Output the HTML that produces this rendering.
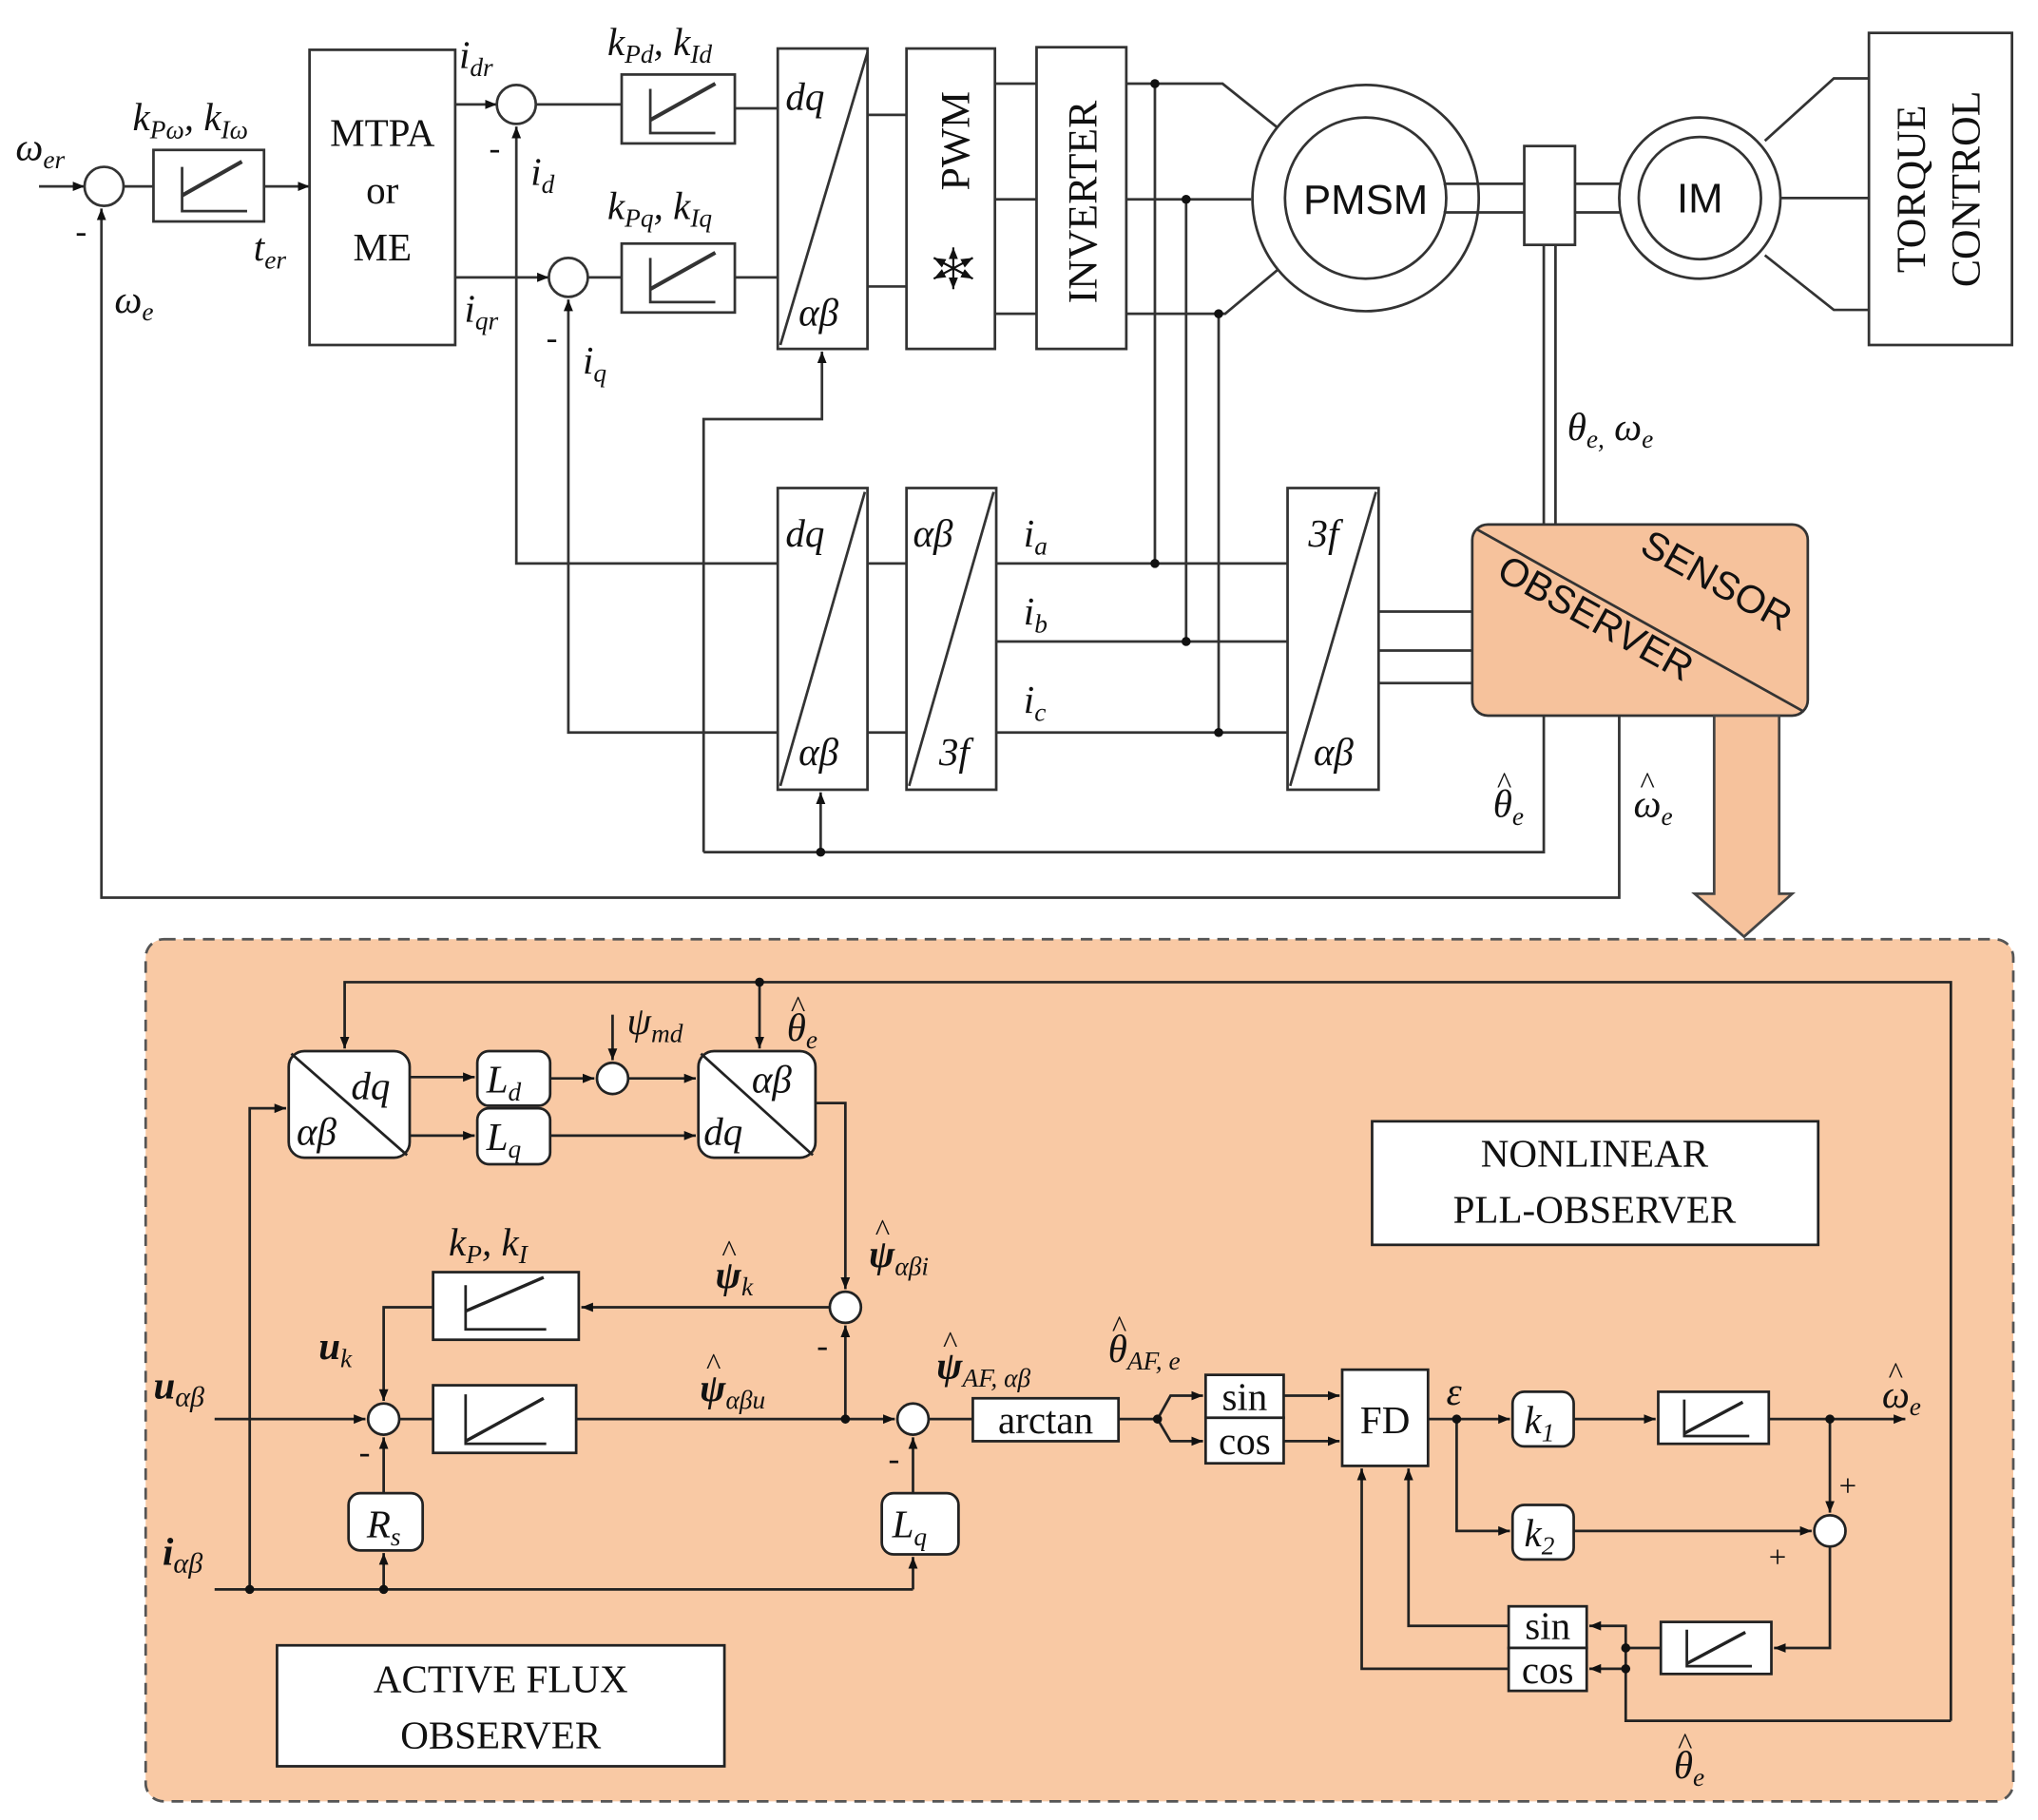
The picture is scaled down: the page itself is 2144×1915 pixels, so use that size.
<!DOCTYPE html>
<html><head><meta charset="utf-8"><style>html,body{margin:0;padding:0;background:#fff}svg{display:block}
text{font-family:"Liberation Serif",serif;fill:#111}
.i{font-style:italic}.s{font-family:"Liberation Sans",sans-serif}
</style></head><body>
<svg width="2144" height="1915" viewBox="0 0 1567 1399" xmlns="http://www.w3.org/2000/svg">
<defs><marker id="a" viewBox="0 0 10 10" refX="10" refY="5" markerWidth="9" markerHeight="9" markerUnits="userSpaceOnUse" orient="auto"><path d="M0,1 L10,5 L0,9 z" fill="#111"/></marker></defs>
<g stroke="#333" stroke-width="2" fill="none">
<line x1="30" y1="143" x2="65" y2="143" marker-end="url(#a)"/>
<circle cx="80" cy="143" r="15" fill="#fff"/>
<rect x="118" y="115" width="85" height="55" fill="#fff"/>
<polyline points="140,128 140,162 190,162"/><line x1="140" y1="150" x2="186" y2="124" stroke-width="3"/>
<line x1="95" y1="143" x2="118" y2="143"/>
<line x1="203" y1="143" x2="238" y2="143" marker-end="url(#a)"/>
<rect x="238" y="38" width="112" height="227" fill="#fff"/>
<line x1="350" y1="80" x2="382" y2="80" marker-end="url(#a)"/>
<circle cx="397" cy="80" r="15" fill="#fff"/>
<line x1="350" y1="213" x2="422" y2="213" marker-end="url(#a)"/>
<circle cx="437" cy="213" r="15" fill="#fff"/>
<line x1="412" y1="80" x2="478" y2="80"/>
<line x1="452" y1="213" x2="478" y2="213"/>
<rect x="478" y="57" width="87" height="53" fill="#fff"/>
<polyline points="500,68 500,102 550,102"/><line x1="500" y1="92" x2="550" y2="64" stroke-width="3"/>
<rect x="478" y="187" width="87" height="53" fill="#fff"/>
<polyline points="500,198 500,232 550,232"/><line x1="500" y1="222" x2="550" y2="194" stroke-width="3"/>
<line x1="565" y1="83" x2="598" y2="83"/><line x1="565" y1="213" x2="598" y2="213"/>
<rect x="598" y="37" width="69" height="231" fill="#fff"/><line x1="667" y1="40" x2="600" y2="265"/>
<line x1="667" y1="88" x2="697" y2="88"/><line x1="667" y1="220" x2="697" y2="220"/>
<rect x="697" y="37" width="68" height="231" fill="#fff"/>
<line x1="765" y1="64" x2="797" y2="64"/><line x1="765" y1="153" x2="797" y2="153"/><line x1="765" y1="241" x2="797" y2="241"/>
<rect x="797" y="36" width="69" height="232" fill="#fff"/>
<polyline points="866,64 940,64 985,100"/><line x1="866" y1="153" x2="962" y2="153"/><polyline points="866,241 942,241 985,205"/>
<line x1="888" y1="64" x2="888" y2="433"/><line x1="912" y1="153" x2="912" y2="493"/><line x1="937" y1="241" x2="937" y2="563"/>
<circle cx="1050" cy="152" r="87" fill="#fff"/><circle cx="1050" cy="152" r="62" fill="#fff"/>
<line x1="1110" y1="141" x2="1262" y2="141"/><line x1="1110" y1="163" x2="1262" y2="163"/>
<rect x="1172" y="112" width="39" height="76" fill="#fff"/>
<line x1="1187" y1="188" x2="1187" y2="403"/><line x1="1196" y1="188" x2="1196" y2="403"/>
<circle cx="1307" cy="152" r="62" fill="#fff"/><circle cx="1307" cy="152" r="47" fill="#fff"/>
<polyline points="1357,108 1410,60 1437,60"/><line x1="1369" y1="152" x2="1437" y2="152"/><polyline points="1357,196 1410,238 1437,238"/>
<rect x="1437" y="25" width="110" height="240" fill="#fff"/>
<polyline points="541,655 541,322 632,322 632,270" marker-end="url(#a)"/>
<polyline points="541,655 1187,655 1187,550"/>
<line x1="631" y1="655" x2="631" y2="609" marker-end="url(#a)"/>
<rect x="598" y="375" width="69" height="232" fill="#fff"/><line x1="665" y1="378" x2="600" y2="604"/>
<rect x="697" y="375" width="69" height="232" fill="#fff"/><line x1="764" y1="378" x2="699" y2="604"/>
<polyline points="598,433 397,433 397,97" marker-end="url(#a)"/>
<polyline points="598,563 437,563 437,230" marker-end="url(#a)"/>
<line x1="667" y1="433" x2="697" y2="433"/><line x1="667" y1="563" x2="697" y2="563"/>
<line x1="766" y1="433" x2="990" y2="433"/><line x1="766" y1="493" x2="990" y2="493"/><line x1="766" y1="563" x2="990" y2="563"/>
<rect x="990" y="375" width="70" height="232" fill="#fff"/><line x1="1058" y1="378" x2="992" y2="604"/>
<line x1="1060" y1="470" x2="1132" y2="470"/><line x1="1060" y1="500" x2="1132" y2="500"/><line x1="1060" y1="525" x2="1132" y2="525"/>
<rect x="1132" y="403" width="258" height="147" rx="12" fill="#f6c29c"/><line x1="1136" y1="407" x2="1387" y2="547"/>
<polyline points="1245,550 1245,690 78,690 78,160" marker-end="url(#a)"/>
<path d="M1318,550 L1368,550 L1368,687 L1378,687 L1341,720 L1303,687 L1318,687 Z" fill="#f6c29c" stroke="#444"/>
</g>
<g fill="#111">
<circle cx="888" cy="64" r="3.5"/><circle cx="912" cy="153" r="3.5"/><circle cx="937" cy="241" r="3.5"/>
<circle cx="888" cy="433" r="3.5"/><circle cx="912" cy="493" r="3.5"/><circle cx="937" cy="563" r="3.5"/><circle cx="631" cy="655" r="3.5"/>
</g>
<g stroke="#111" stroke-width="1.5" fill="none">
<line x1="733" y1="190" x2="733" y2="222" marker-end="url(#a)"/><line x1="733" y1="222" x2="733" y2="190" marker-end="url(#a)"/>
<line x1="718" y1="198" x2="748" y2="214" marker-end="url(#a)"/><line x1="748" y1="214" x2="718" y2="198" marker-end="url(#a)"/>
<line x1="718" y1="214" x2="748" y2="198" marker-end="url(#a)"/><line x1="748" y1="198" x2="718" y2="214" marker-end="url(#a)"/>
</g>
<g font-size="30">
<text x="12" y="123" class="i">ω<tspan font-size="20" dy="6">er</tspan></text>
<text x="58" y="186" font-size="26">-</text>
<text x="88" y="240" class="i">ω<tspan font-size="20" dy="6">e</tspan></text>
<text x="102" y="100" class="i">k<tspan font-size="20" dy="6">Pω</tspan><tspan dy="-6">, k</tspan><tspan font-size="20" dy="6">Iω</tspan></text>
<text x="294" y="112" text-anchor="middle">MTPA</text><text x="294" y="156" text-anchor="middle">or</text><text x="294" y="200" text-anchor="middle">ME</text>
<text x="195" y="200" class="i">t<tspan font-size="20" dy="6">er</tspan></text>
<text x="353" y="52" class="i">i<tspan font-size="20" dy="6">dr</tspan></text>
<text x="376" y="122" font-size="26">-</text>
<text x="408" y="142" class="i">i<tspan font-size="20" dy="6">d</tspan></text>
<text x="357" y="247" class="i">i<tspan font-size="20" dy="6">qr</tspan></text>
<text x="420" y="268" font-size="26">-</text>
<text x="448" y="287" class="i">i<tspan font-size="20" dy="6">q</tspan></text>
<text x="467" y="42" class="i">k<tspan font-size="20" dy="6">Pd</tspan><tspan dy="-6">, k</tspan><tspan font-size="20" dy="6">Id</tspan></text>
<text x="467" y="168" class="i">k<tspan font-size="20" dy="6">Pq</tspan><tspan dy="-6">, k</tspan><tspan font-size="20" dy="6">Iq</tspan></text>
<text x="604" y="84" class="i">dq</text><text x="614" y="250" class="i">αβ</text>
<text x="604" y="420" class="i">dq</text><text x="614" y="588" class="i">αβ</text>
<text x="702" y="420" class="i">αβ</text><text x="722" y="588" class="i">3f</text>
<text x="1006" y="420" class="i">3f</text><text x="1010" y="588" class="i">αβ</text>
<text x="787" y="420" class="i">i<tspan font-size="20" dy="6">a</tspan></text>
<text x="787" y="480" class="i">i<tspan font-size="20" dy="6">b</tspan></text>
<text x="787" y="548" class="i">i<tspan font-size="20" dy="6">c</tspan></text>
<text transform="translate(745,108) rotate(-90)" text-anchor="middle" font-size="32">PWM</text>
<text transform="translate(843,155) rotate(-90)" text-anchor="middle" font-size="32">INVERTER</text>
<text x="1050" y="164" text-anchor="middle" class="s" font-size="32">PMSM</text>
<text x="1307" y="163" text-anchor="middle" class="s" font-size="32">IM</text>
<text transform="translate(1480,145) rotate(-90)" text-anchor="middle" font-size="32">TORQUE</text>
<text transform="translate(1522,145) rotate(-90)" text-anchor="middle" font-size="32">CONTROL</text>
<text x="1205" y="338" class="i">θ<tspan font-size="20" dy="6">e,</tspan><tspan dy="-6"> ω</tspan><tspan font-size="20" dy="6">e</tspan></text>
<text transform="translate(1315,455) rotate(29)" text-anchor="middle" class="s" font-size="30">SENSOR</text>
<text transform="translate(1222,484) rotate(29)" text-anchor="middle" class="s" font-size="30">OBSERVER</text>
<text x="1148" y="628" class="i">θ<tspan font-size="20" dy="6">e</tspan></text><text x="1151" y="610" font-size="24">^</text>
<text x="1256" y="628" class="i">ω<tspan font-size="20" dy="6">e</tspan></text><text x="1261" y="610" font-size="24">^</text>
</g>
<rect x="112" y="722" width="1436" height="663" rx="14" fill="#f9c9a4" stroke="#555" stroke-width="2" stroke-dasharray="9,6"/>
<g stroke="#222" stroke-width="2" fill="none">
<polyline points="1500,1323 1500,755 265,755 265,806" marker-end="url(#a)"/>
<line x1="584" y1="755" x2="584" y2="806" marker-end="url(#a)"/>
<rect x="222" y="808" width="93" height="82" rx="12" fill="#fff"/><line x1="224" y1="810" x2="313" y2="888"/>
<rect x="367" y="808" width="56" height="42" rx="9" fill="#fff"/>
<rect x="367" y="852" width="56" height="43" rx="9" fill="#fff"/>
<line x1="315" y1="828" x2="365" y2="828" marker-end="url(#a)"/>
<line x1="315" y1="873" x2="365" y2="873" marker-end="url(#a)"/>
<line x1="423" y1="829" x2="457" y2="829" marker-end="url(#a)"/>
<circle cx="471" cy="829" r="12" fill="#fff"/>
<line x1="471" y1="780" x2="471" y2="815" marker-end="url(#a)"/>
<line x1="483" y1="829" x2="535" y2="829" marker-end="url(#a)"/>
<line x1="423" y1="873" x2="535" y2="873" marker-end="url(#a)"/>
<rect x="537" y="808" width="90" height="82" rx="12" fill="#fff"/><line x1="539" y1="810" x2="625" y2="888"/>
<polyline points="627,848 650,848 650,991" marker-end="url(#a)"/>
<circle cx="650" cy="1005" r="12" fill="#fff"/>
<line x1="638" y1="1005" x2="447" y2="1005" marker-end="url(#a)"/>
<rect x="333" y="978" width="112" height="52" fill="#fff"/>
<polyline points="358,988 358,1022 420,1022"/><line x1="358" y1="1008" x2="418" y2="982" stroke-width="2.5"/>
<polyline points="333,1005 295,1005 295,1077" marker-end="url(#a)"/>
<line x1="165" y1="1091" x2="281" y2="1091" marker-end="url(#a)"/>
<circle cx="295" cy="1091" r="12" fill="#fff"/>
<line x1="307" y1="1091" x2="333" y2="1091"/>
<rect x="333" y="1065" width="110" height="52" fill="#fff"/>
<polyline points="358,1072 358,1110 420,1110"/><line x1="358" y1="1108" x2="418" y2="1075" stroke-width="2.5"/>
<line x1="443" y1="1091" x2="688" y2="1091" marker-end="url(#a)"/>
<line x1="650" y1="1091" x2="650" y2="1019" marker-end="url(#a)"/>
<circle cx="702" cy="1091" r="12" fill="#fff"/>
<rect x="268" y="1148" width="57" height="44" rx="9" fill="#fff"/>
<line x1="295" y1="1148" x2="295" y2="1105" marker-end="url(#a)"/>
<line x1="165" y1="1222" x2="702" y2="1222"/>
<line x1="702" y1="1222" x2="702" y2="1197" marker-end="url(#a)"/>
<line x1="295" y1="1222" x2="295" y2="1194" marker-end="url(#a)"/>
<polyline points="192,1222 192,852 220,852" marker-end="url(#a)"/>
<rect x="678" y="1148" width="59" height="47" rx="9" fill="#fff"/>
<line x1="702" y1="1148" x2="702" y2="1105" marker-end="url(#a)"/>
<line x1="714" y1="1091" x2="748" y2="1091"/>
<rect x="748" y="1075" width="112" height="33" fill="#fff"/>
<line x1="860" y1="1091" x2="890" y2="1091"/>
<polyline points="890,1091 900,1073 925,1073" marker-end="url(#a)"/>
<polyline points="890,1091 900,1108 925,1108" marker-end="url(#a)"/>
<rect x="927" y="1057" width="60" height="33" fill="#fff"/><rect x="927" y="1090" width="60" height="35" fill="#fff"/>
<line x1="987" y1="1073" x2="1030" y2="1073" marker-end="url(#a)"/>
<line x1="987" y1="1108" x2="1030" y2="1108" marker-end="url(#a)"/>
<rect x="1032" y="1053" width="66" height="74" fill="#fff"/>
<line x1="1098" y1="1091" x2="1161" y2="1091" marker-end="url(#a)"/>
<polyline points="1120,1091 1120,1177 1161,1177" marker-end="url(#a)"/>
<rect x="1163" y="1070" width="47" height="42" rx="9" fill="#fff"/>
<rect x="1163" y="1157" width="47" height="42" rx="9" fill="#fff"/>
<line x1="1210" y1="1091" x2="1273" y2="1091" marker-end="url(#a)"/>
<rect x="1275" y="1070" width="85" height="40" fill="#fff"/>
<polyline points="1295,1076 1295,1104 1345,1104"/><line x1="1295" y1="1102" x2="1340" y2="1078" stroke-width="2.5"/>
<line x1="1360" y1="1091" x2="1465" y2="1091" marker-end="url(#a)"/>
<line x1="1407" y1="1091" x2="1407" y2="1163" marker-end="url(#a)"/>
<line x1="1210" y1="1177" x2="1393" y2="1177" marker-end="url(#a)"/>
<circle cx="1407" cy="1177" r="12" fill="#fff"/>
<polyline points="1407,1189 1407,1267 1364,1267" marker-end="url(#a)"/>
<rect x="1277" y="1247" width="85" height="40" fill="#fff"/>
<polyline points="1297,1253 1297,1281 1347,1281"/><line x1="1297" y1="1279" x2="1342" y2="1255" stroke-width="2.5"/>
<line x1="1277" y1="1267" x2="1250" y2="1267"/>
<polyline points="1250,1267 1250,1250 1222,1250" marker-end="url(#a)"/>
<line x1="1250" y1="1283" x2="1222" y2="1283" marker-end="url(#a)"/>
<polyline points="1250,1267 1250,1323 1500,1323"/>
<rect x="1160" y="1235" width="60" height="32" fill="#fff"/><rect x="1160" y="1267" width="60" height="33" fill="#fff"/>
<polyline points="1160,1250 1083,1250 1083,1129" marker-end="url(#a)"/>
<polyline points="1160,1283 1047,1283 1047,1129" marker-end="url(#a)"/>
<rect x="1055" y="862" width="343" height="95" fill="#fff"/>
<rect x="213" y="1265" width="344" height="93" fill="#fff"/>
</g>
<g fill="#111">
<circle cx="584" cy="755" r="3.5"/><circle cx="650" cy="1091" r="3.5"/><circle cx="192" cy="1222" r="3.5"/><circle cx="295" cy="1222" r="3.5"/>
<circle cx="890" cy="1091" r="3.5"/><circle cx="1120" cy="1091" r="3.5"/><circle cx="1407" cy="1091" r="3.5"/><circle cx="1250" cy="1267" r="3.5"/><circle cx="1250" cy="1283" r="3.5"/>
</g>
<g font-size="30">
<text x="270" y="845" class="i">dq</text><text x="228" y="880" class="i">αβ</text>
<text x="578" y="840" class="i">αβ</text><text x="541" y="880" class="i">dq</text>
<text x="374" y="840" class="i">L<tspan font-size="20" dy="6">d</tspan></text>
<text x="374" y="884" class="i">L<tspan font-size="20" dy="6">q</tspan></text>
<text x="482" y="795" class="i">ψ<tspan font-size="20" dy="6">md</tspan></text>
<text x="605" y="800" class="i">θ<tspan font-size="20" dy="6">e</tspan></text><text x="608" y="782" font-size="24">^</text>
<text x="345" y="965" class="i">k<tspan font-size="20" dy="6">P</tspan><tspan dy="-6">, k</tspan><tspan font-size="20" dy="6">I</tspan></text>
<text x="550" y="990" class="i" font-weight="bold">ψ<tspan font-size="20" dy="6" font-weight="normal">k</tspan></text><text x="555" y="970" font-size="24">^</text>
<text x="668" y="974" class="i" font-weight="bold">ψ<tspan font-size="20" dy="6" font-weight="normal">αβi</tspan></text><text x="673" y="954" font-size="24">^</text>
<text x="245" y="1045" class="i" font-weight="bold">u<tspan font-size="20" dy="6" font-weight="normal">k</tspan></text>
<text x="118" y="1075" class="i" font-weight="bold">u<tspan font-size="22" dy="6" font-weight="normal">αβ</tspan></text>
<text x="125" y="1203" class="i" font-weight="bold">i<tspan font-size="22" dy="6" font-weight="normal">αβ</tspan></text>
<text x="538" y="1077" class="i" font-weight="bold">ψ<tspan font-size="20" dy="6" font-weight="normal">αβu</tspan></text><text x="543" y="1057" font-size="24">^</text>
<text x="720" y="1060" class="i" font-weight="bold">ψ<tspan font-size="20" dy="6" font-weight="normal">AF, αβ</tspan></text><text x="725" y="1040" font-size="24">^</text>
<text x="852" y="1047" class="i">θ<tspan font-size="20" dy="6">AF, e</tspan></text><text x="855" y="1028" font-size="24">^</text>
<text x="628" y="1043" font-size="26">-</text><text x="276" y="1125" font-size="26">-</text><text x="683" y="1130" font-size="26">-</text>
<text x="282" y="1182" class="i">R<tspan font-size="20" dy="6">s</tspan></text>
<text x="686" y="1182" class="i">L<tspan font-size="20" dy="6">q</tspan></text>
<text x="804" y="1102" text-anchor="middle">arctan</text>
<text x="957" y="1084" text-anchor="middle">sin</text><text x="957" y="1118" text-anchor="middle">cos</text>
<text x="1065" y="1102" text-anchor="middle">FD</text>
<text x="1112" y="1080" class="i">ε</text>
<text x="1172" y="1102" class="i">k<tspan font-size="20" dy="6">1</tspan></text>
<text x="1172" y="1189" class="i">k<tspan font-size="20" dy="6">2</tspan></text>
<text x="1447" y="1082" class="i">ω<tspan font-size="20" dy="6">e</tspan></text><text x="1452" y="1064" font-size="24">^</text>
<text x="1414" y="1150" font-size="24">+</text><text x="1360" y="1205" font-size="24">+</text>
<text x="1190" y="1260" text-anchor="middle">sin</text><text x="1190" y="1294" text-anchor="middle">cos</text>
<text x="1287" y="1367" class="i">θ<tspan font-size="20" dy="6">e</tspan></text><text x="1290" y="1349" font-size="24">^</text>
<text x="1226" y="897" text-anchor="middle">NONLINEAR</text><text x="1226" y="940" text-anchor="middle">PLL-OBSERVER</text>
<text x="385" y="1301" text-anchor="middle">ACTIVE FLUX</text><text x="385" y="1344" text-anchor="middle">OBSERVER</text>
</g>
</svg>
</body></html>
